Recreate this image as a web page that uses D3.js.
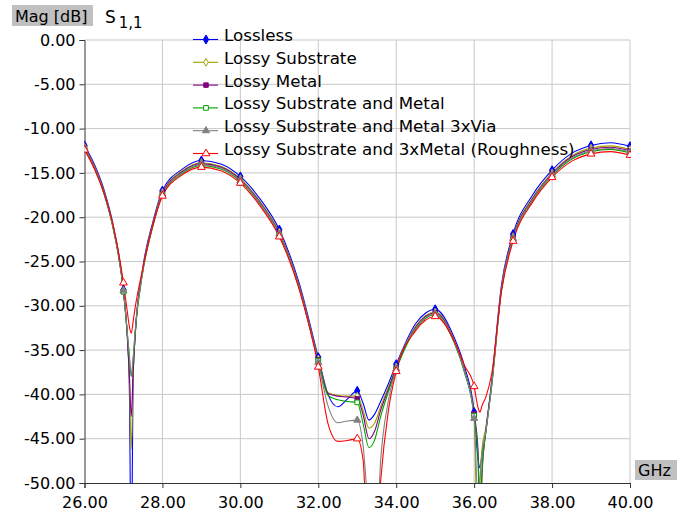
<!DOCTYPE html>
<html>
<head>
<meta charset="utf-8">
<script src="https://cdn.jsdelivr.net/npm/d3@7"></script>
<style>
body { margin: 0; background: #fff; }
svg text { font-family: "DejaVu Sans", Verdana, sans-serif; fill: #000; }
</style>
</head>
<body>
<svg id="chart" width="692" height="517"></svg>
<script>
// frequency points (GHz), denser near the notches
var freq = [26, 26.25, 26.5, 26.75, 27, 27.1, 27.15, 27.2, 27.25, 27.3, 27.5, 27.75,
  28, 28.5, 29, 29.5, 30, 30.5, 31, 31.5, 32, 32.25, 32.5, 32.75, 33, 33.15, 33.3,
  33.45, 33.6, 33.8, 34, 34.5, 35, 35.5, 35.75, 36, 36.1, 36.15, 36.2, 36.3, 36.45,
  36.7, 37, 37.5, 38, 38.5, 39, 39.5, 40];

var lossless = [-11.9, -14.0, -16.9, -21.2, -28.2, -33.5, -39.0, -60, -38.0, -33.5, -25.6, -20.6,
  -17.0, -14.6, -13.6, -14.0, -15.4, -17.9, -21.4, -27.3, -35.8, -40.0, -41.4, -40.5, -39.6, -41.0, -42.9,
  -42.2, -40.8, -38.8, -36.6, -32.0, -30.4, -33.7, -36.8, -42.0, -47.3, -48.3, -46.8, -44.2, -38.5,
  -27.7, -21.9, -17.5, -14.7, -12.8, -11.9, -11.6, -12.0];

var lossySubstrate = [-12.1, -14.2, -17.1, -21.4, -28.3, -33.4, -38.0, -46.2, -37.5, -33.3, -25.8, -20.8,
  -17.2, -14.8, -13.85, -14.25, -15.65, -18.2, -21.7, -27.6, -36.0, -39.8, -40.1, -40.2, -40.2, -41.8, -43.8,
  -43.2, -41.4, -39.2, -36.9, -32.3, -30.7, -34.0, -37.2, -42.5, -60, -50.5, -46.2, -43.8, -38.8,
  -28.0, -22.2, -17.8, -15.0, -13.1, -12.2, -11.95, -12.35];

var lossyMetal = [-12.15, -14.3, -17.2, -21.5, -28.4, -33.5, -37.5, -42.5, -37.2, -33.2, -25.9, -20.9,
  -17.3, -14.9, -13.95, -14.35, -15.75, -18.3, -21.8, -27.7, -36.1, -39.9, -40.2, -40.3, -40.5, -42.3, -45.0,
  -44.1, -41.8, -39.4, -37.0, -32.4, -30.8, -34.1, -37.3, -42.2, -46.3, -60, -49.3, -44.1, -38.9,
  -28.1, -22.3, -17.9, -15.1, -13.2, -12.35, -12.1, -12.5];

var lossyBoth = [-12.3, -14.45, -17.35, -21.6, -28.4, -33.2, -35.8, -38.0, -36.0, -33.0, -26.1, -21.1,
  -17.5, -15.1, -14.15, -14.55, -15.95, -18.5, -22.0, -27.9, -36.2, -40.1, -40.6, -40.8, -40.9, -43.3, -46.0,
  -45.1, -42.5, -39.7, -37.2, -32.6, -31.0, -34.3, -37.5, -42.4, -47.3, -55.0, -48.8, -44.3, -39.1,
  -28.3, -22.5, -18.1, -15.3, -13.45, -12.6, -12.35, -12.75];

var lossyVia = [-12.2, -14.35, -17.25, -21.5, -28.3, -33.0, -35.5, -37.8, -35.8, -32.8, -26.0, -21.0,
  -17.4, -15.0, -14.05, -14.45, -15.85, -18.4, -21.9, -27.8, -36.4, -41.3, -43.2, -43.0, -42.9, -45.8, -54.0,
  -60, -47.5, -40.7, -37.1, -32.5, -30.9, -34.2, -37.4, -42.7, -52.0, -49.2, -46.7, -44.2, -39.0,
  -28.2, -22.4, -18.0, -15.2, -13.35, -12.5, -12.25, -12.65];

var roughness = [-12.4, -14.5, -17.3, -21.2, -27.4, -30.7, -32.3, -33.1, -31.7, -30.2, -25.7, -21.0,
  -17.6, -15.25, -14.35, -14.75, -16.15, -18.7, -22.2, -28.0, -36.9, -43.3, -45.3, -45.2, -45.0, -47.4, -60,
  -60, -49.8, -41.8, -37.4, -32.8, -31.2, -34.1, -36.7, -39.1, -41.5, -42.0, -41.3, -40.3, -37.7,
  -28.4, -22.7, -18.3, -15.5, -13.7, -12.85, -12.6, -13.0];

var seriesNames = ["Lossless", "Lossy Substrate", "Lossy Metal", "Lossy Substrate and Metal",
  "Lossy Substrate and Metal 3xVia", "Lossy Substrate and 3xMetal (Roughness)"];
var seriesValues = [lossless, lossySubstrate, lossyMetal, lossyBoth, lossyVia, roughness];

var xTicks = [26, 28, 30, 32, 34, 36, 38, 40];
var yTicks = [0, -5, -10, -15, -20, -25, -30, -35, -40, -45, -50];

// look of each trace
var colors = ["#0000ff", "#a0a000", "#800080", "#00a000", "#808080", "#ff0000"];
var symbols = [d3.symbolDiamond, d3.symbolDiamond, d3.symbolSquare, d3.symbolSquare, d3.symbolTriangle, d3.symbolTriangle];
var symSize = [24, 18, 20, 22, 22, 26];
var filled = [true, false, true, false, true, false];

var fmt = function(d) { return d3.format(".2f")(d).replace("\u2212", "-"); };

var svg = d3.select("#chart");
var g = svg.append("g").attr("transform", "translate(84.5,40)");

var x = d3.scaleLinear().domain([26, 40]).range([0, 545.5]);
var y = d3.scaleLinear().domain([-50, 0]).range([443, 0]);

// grid
g.append("g").selectAll("line.hgrid").data(yTicks.slice(0, -1)).enter()
  .append("line")
    .attr("x1", 0).attr("x2", x(40))
    .attr("y1", function(d) { return y(d); }).attr("y2", function(d) { return y(d); })
    .attr("stroke", "#c8c8c8").attr("stroke-width", 1);
g.append("g").selectAll("line.vgrid").data(xTicks.slice(1)).enter()
  .append("line")
    .attr("y1", 0).attr("y2", y(-50))
    .attr("x1", function(d) { return x(d); }).attr("x2", function(d) { return x(d); })
    .attr("stroke", "#c8c8c8").attr("stroke-width", 1);

// axes
var xAxis = g.append("g")
  .attr("transform", "translate(0," + y(-50) + ")")
  .call(d3.axisBottom(x).tickValues(xTicks).tickFormat(fmt).tickSizeOuter(0).tickSize(5).tickPadding(9));
var yAxis = g.append("g")
  .call(d3.axisLeft(y).tickValues(yTicks).tickFormat(fmt).tickSizeOuter(0).tickSize(5).tickPadding(4));
[xAxis, yAxis].forEach(function(a) {
  a.select(".domain").attr("stroke", "#333");
  a.selectAll(".tick line").attr("stroke", "#333");
  a.selectAll(".tick text").style("font-size", "16px").style("font-family", "DejaVu Sans");
});

g.append("defs").append("clipPath").attr("id", "clip")
  .append("rect").attr("x", 0).attr("y", -1).attr("width", x(40) + 1).attr("height", y(-50) + 1);

var line = d3.line()
  .curve(d3.curveMonotoneX)
  .x(function(d) { return x(d[0]); })
  .y(function(d) { return y(d[1]); });

var traces = seriesValues.map(function(vals, i) {
  return {
    name: seriesNames[i],
    points: freq.map(function(f, k) { return [f, vals[k]]; })
  };
});

var lines = g.append("g").attr("clip-path", "url(#clip)");
traces.forEach(function(t, i) {
  lines.append("path")
    .datum(t.points)
    .attr("d", line)
    .attr("fill", "none")
    .attr("stroke", colors[i])
    .attr("stroke-width", 1.1);
});

function drawMarker(sel, i) {
  sel.attr("d", d3.symbol().type(symbols[i]).size(symSize[i]))
    .attr("fill", filled[i] ? colors[i] : "#fff")
    .attr("stroke", colors[i])
    .attr("stroke-width", 1);
}

traces.forEach(function(t, i) {
  lines.append("g").selectAll("path")
    .data(t.points.filter(function(p) { return Number.isInteger(p[0]) && p[1] >= -50; }))
    .enter().append("path")
      .attr("transform", function(p) { return "translate(" + x(p[0]) + "," + y(p[1]) + ")"; })
      .call(drawMarker, i);
});

// legend
var legend = svg.append("g").attr("transform", "translate(193,39.5)");
seriesNames.forEach(function(name, i) {
  var row = legend.append("g").attr("transform", "translate(0," + (i * 22.8) + ")");
  row.append("line").attr("x1", 0).attr("x2", 25).attr("y1", 0).attr("y2", 0)
    .attr("stroke", colors[i]).attr("stroke-width", 1.1);
  row.append("path").attr("transform", "translate(13,0)").call(drawMarker, i);
  row.append("text").attr("x", 31).attr("y", 1.5).style("font-size", "16.7px").text(name);
});

// axis titles
svg.append("rect").attr("x", 12).attr("y", 5).attr("width", 81).attr("height", 21).attr("fill", "#c0c0c0");
svg.append("text").attr("x", 15).attr("y", 22).style("font-size", "16px").text("Mag [dB]");
var sTitle = svg.append("text").attr("x", 105).attr("y", 23).style("font-size", "17px");
sTitle.append("tspan").text("S");
sTitle.append("tspan").attr("dx", 3).attr("dy", 5).style("font-size", "15px").text("1,1");

svg.append("rect").attr("x", 635).attr("y", 460).attr("width", 42).attr("height", 20).attr("fill", "#c0c0c0");
svg.append("text").attr("x", 638).attr("y", 476).style("font-size", "16px").text("GHz");
</script>
</body>
</html>
